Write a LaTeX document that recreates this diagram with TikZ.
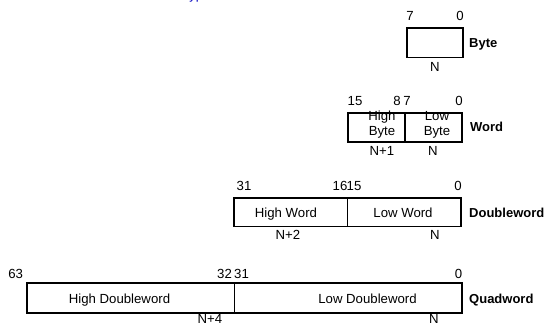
\documentclass[tikz,border=0pt]{standalone}
\usepackage{fontspec}
\setmainfont{Liberation Sans}
\begin{document}
\begin{tikzpicture}[x=1pt,y=-1pt,
  cell/.style={draw=black,line width=1.8pt,inner sep=0pt,outer sep=0pt,minimum height=29.5pt},
  txt/.style={inner sep=0pt,text height=9.4pt,text depth=0pt,font=\fontsize{13.2}{15}\selectfont},
  two/.style={inner sep=0pt,align=center,font=\fontsize{13.2}{15}\selectfont},
  lbl/.style={inner sep=0pt,anchor=west,text height=9.4pt,text depth=0pt,font=\fontsize{13}{15}\selectfont\bfseries}]
\clip (0,0) rectangle (549,325);
\fill[white] (0,0) rectangle (549,325);
% cut-off heading
\node[anchor=base west,inner sep=0pt,text=blue!75!black,font=\fontsize{13}{15}\selectfont] (head) at (182,-1) {Types};
% Byte
\node[cell,minimum width=56pt] (byte) at (435,42.75) {};
\node[txt] (b7) at (410,16) {7};
\node[txt] (b0) at (460,16) {0};
\node[txt] (bN) at (435,67) {N};
\node[lbl] (blbl) at (469,43) {Byte};
% Word
\node[cell,minimum width=57pt,minimum height=29pt] (whigh) at (376.5,127.5) {};
\node[cell,minimum width=57pt,minimum height=29pt] (wlow) at (433.5,127.5) {};
\node[two] (whtxt) at (382,124.5) {High\\Byte};
\node[two] (wltxt) at (437,124.5) {Low\\Byte};
\node[txt] (w15) at (355,101) {15};
\node[txt] (w8) at (397,101) {8};
\node[txt] (w7) at (407,101) {7};
\node[txt] (w0) at (459,101) {0};
\node[txt] (wN1) at (382,151) {N+1};
\node[txt] (wN) at (433,151) {N};
\node[lbl] (wlbl) at (470,127) {Word};
% Doubleword
\node[cell,minimum width=113.5pt,minimum height=28.5pt] (dhigh) at (290.75,212.25) {};
\node[cell,minimum width=113.5pt,minimum height=28.5pt] (dlow) at (404.25,212.25) {};
\node[txt] (dhtxt) at (286,212.5) {High Word};
\node[txt] (dltxt) at (403,212.5) {Low Word};
\node[txt] (d31) at (244,185.5) {31};
\node[txt] (d16) at (340,185.5) {16};
\node[txt] (d15) at (354,185.5) {15};
\node[txt] (d0) at (458,185.5) {0};
\node[txt] (dN2) at (288,235) {N+2};
\node[txt] (dN) at (435,235) {N};
\node[lbl] (dlbl) at (469,213) {Doubleword};
% Quadword
\node[cell,minimum width=207.5pt,minimum height=30pt] (qhigh) at (130.75,297.8) {};
\node[cell,minimum width=227.5pt,minimum height=30pt] (qlow) at (348.25,297.8) {};
\node[txt] (qhtxt) at (119.5,298.5) {High Doubleword};
\node[txt] (qltxt) at (367.5,298.5) {Low Doubleword};
\node[txt] (q63) at (15.7,273.5) {63};
\node[txt] (q32) at (224.5,273.5) {32};
\node[txt] (q31) at (241.5,273.5) {31};
\node[txt] (q0) at (458.5,273.5) {0};
\node[txt] (qN4) at (210,318.8) {N+4};
\node[txt] (qN) at (434,318.8) {N};
\node[lbl] (qlbl) at (469,298.5) {Quadword};
\end{tikzpicture}
\end{document}
